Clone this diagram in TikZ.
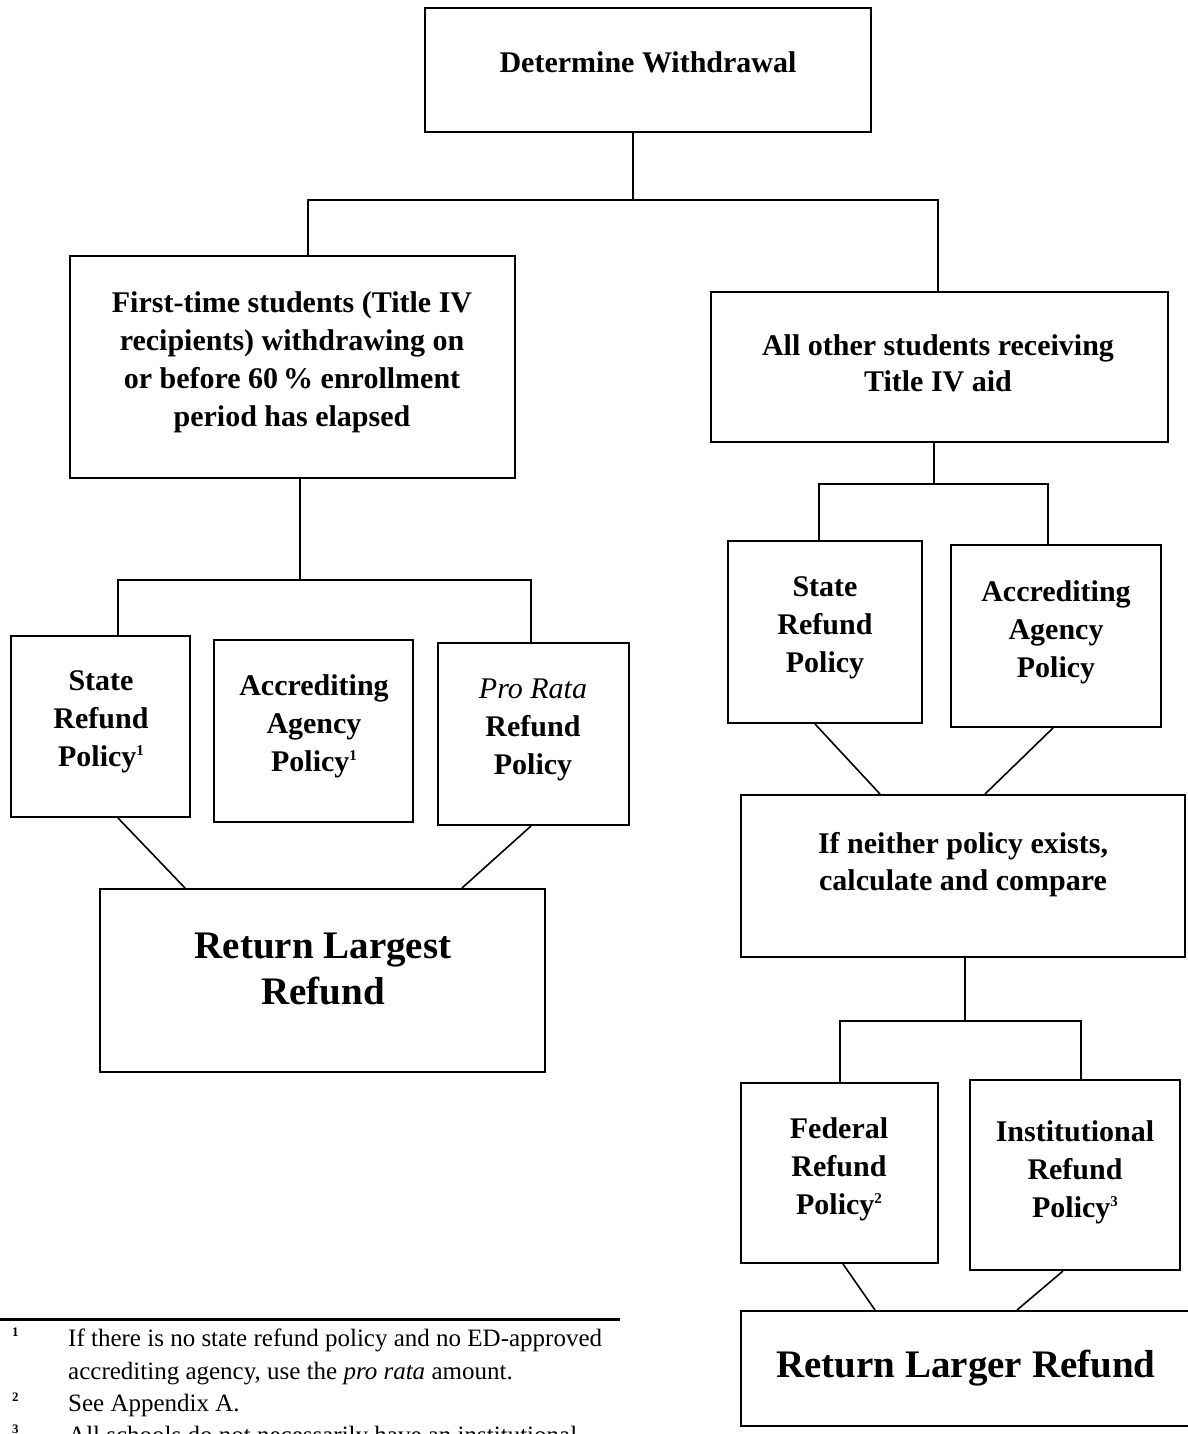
\documentclass[tikz,border=0pt]{standalone}
\usepackage{fontspec}
\setmainfont{Liberation Serif}
\newcommand{\supnum}[1]{\raisebox{11pt}{\fontsize{15}{15}\selectfont #1}}
\begin{document}
\begin{tikzpicture}[x=1pt,y=-1pt,
  box/.style={draw, line width=2pt, rectangle, inner sep=0pt},
  txt/.style={align=center, font=\fontsize{30}{38}\selectfont\bfseries, inner sep=0pt},
  big/.style={align=center, font=\fontsize{39}{46}\selectfont\bfseries, inner sep=0pt},
  conn/.style={line width=1.6pt},
  fn/.style={align=left, anchor=north west, font=\fontsize{25}{32.5}\selectfont, inner sep=0pt},
  fnum/.style={anchor=north west, font=\fontsize{13}{13}\selectfont\bfseries, inner sep=0pt}]
\useasboundingbox (0,0) rectangle (1187,1434);

% boxes
\node[box, minimum width=446pt, minimum height=124pt] (det) at (648,70) {};
\node[box, minimum width=445pt, minimum height=222pt] (first) at (292.5,367) {};
\node[box, minimum width=457pt, minimum height=150pt] (other) at (939.5,367) {};
\node[box, minimum width=179pt, minimum height=181pt] (stateL) at (100.5,726.5) {};
\node[box, minimum width=199pt, minimum height=182pt] (accrL) at (313.5,731) {};
\node[box, minimum width=191pt, minimum height=182pt] (prorata) at (533.5,734) {};
\node[box, minimum width=445pt, minimum height=183pt] (retL) at (322.5,980.5) {};
\node[box, minimum width=194pt, minimum height=182pt] (stateR) at (825,632) {};
\node[box, minimum width=210pt, minimum height=182pt] (accrR) at (1056,636) {};
\node[box, minimum width=444pt, minimum height=162pt] (neither) at (963,876) {};
\node[box, minimum width=197pt, minimum height=180pt] (fed) at (839.5,1173) {};
\node[box, minimum width=210pt, minimum height=190pt] (inst) at (1075,1175) {};
\node[box, minimum width=454pt, minimum height=115pt] (retR) at (968,1368.5) {};

% texts
\node[txt] (det-t) at (648,62) {Determine Withdrawal};
\node[txt] (first-t) at (292,362) {First-time students (Title IV\\recipients) withdrawing on\\or before 60\,\% enrollment\\period has elapsed};
\node[txt, font=\fontsize{30}{36}\selectfont\bfseries] (other-t) at (938,363) {All other students receiving\\Title IV aid};
\node[txt] (stateL-t) at (101,722) {State\\Refund\\Policy\supnum{1}};
\node[txt] (accrL-t) at (314,726) {Accrediting\\Agency\\Policy\supnum{1}};
\node[txt] (prorata-t) at (533,730) {{\mdseries\itshape Pro Rata}\\Refund\\Policy};
\node[big] (retL-t) at (323,969) {Return Largest\\Refund};
\node[txt] (stateR-t) at (825,628) {State\\Refund\\Policy};
\node[txt] (accrR-t) at (1056,632) {Accrediting\\Agency\\Policy};
\node[txt, font=\fontsize{30}{37}\selectfont\bfseries] (neither-t) at (963,865) {If neither policy exists,\\calculate and compare};
\node[txt] (fed-t) at (839,1169) {Federal\\Refund\\Policy\supnum{2}};
\node[txt] (inst-t) at (1075,1172) {Institutional\\Refund\\Policy\supnum{3}};
\node[big] (retR-t) at (966,1368) {Return Larger Refund};

% connectors
\coordinate (j1) at (633,200);
\coordinate (j2) at (300,580);
\coordinate (j3) at (934,484);
\coordinate (j4) at (965,1021);
\draw[conn] ([xshift=-15pt]det.south) -- (j1);
\draw[conn] ([xshift=15.5pt]first.north) |- (j1) -| ([xshift=-1.5pt]other.north);
\draw[conn] ([xshift=7.5pt]first.south) -- (j2);
\draw[conn] ([xshift=17.5pt]stateL.north) |- (j2) -| ([xshift=-2.5pt]prorata.north);
\draw[conn] ([xshift=17.5pt]stateL.south) -- ([xshift=-137.5pt]retL.north);
\draw[conn] ([xshift=-2.5pt]prorata.south) -- ([xshift=139.5pt]retL.north);
\draw[conn] ([xshift=-5.5pt]other.south) -- (j3);
\draw[conn] ([xshift=-6pt]stateR.north) |- (j3) -| ([xshift=-8pt]accrR.north);
\draw[conn] ([xshift=-10pt]stateR.south) -- ([xshift=-83pt]neither.north);
\draw[conn] ([xshift=-3pt]accrR.south) -- ([xshift=22pt]neither.north);
\draw[conn] ([xshift=2pt]neither.south) -- (j4);
\draw[conn] ([xshift=0.5pt]fed.north) |- (j4) -| ([xshift=6pt]inst.north);
\draw[conn] ([xshift=3.5pt]fed.south) -- ([xshift=-93pt]retR.north);
\draw[conn] ([xshift=-12pt]inst.south) -- ([xshift=49pt]retR.north);

% footnotes
\coordinate (r1) at (0,1319);
\coordinate (r2) at (620,1319);
\draw[line width=3pt] (r1) -- (r2);
\node[fnum] (n1) at (12,1328) {1};
\node[fn] (fn1) at (68,1329) {If there is no state refund policy and no ED-approved\\accrediting agency, use the \textit{pro rata} amount.};
\node[fnum] (n2) at (12,1393) {2};
\node[fn] (fn2) at (68,1394) {See Appendix A.};
\node[fnum] (n3) at (12,1425) {3};
\node[fn] (fn3) at (68,1426) {All schools do not necessarily have an institutional};
\end{tikzpicture}
\end{document}
